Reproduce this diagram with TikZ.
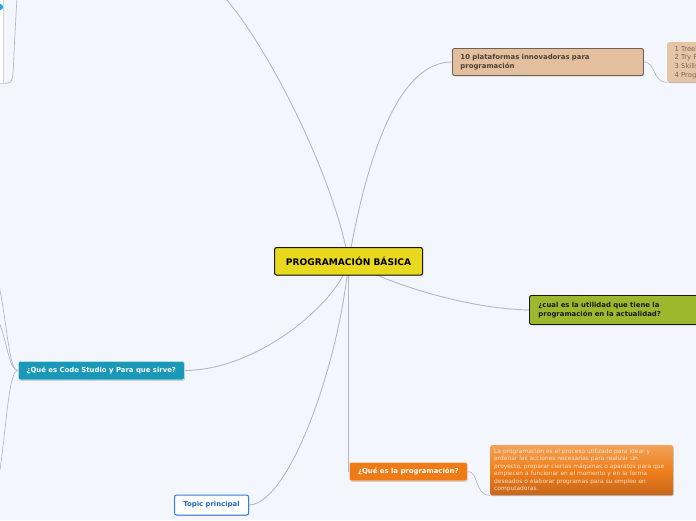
\documentclass[tikz,border=0pt]{standalone}
\usepackage{fontspec}
\setmainfont{DejaVu Sans}
\usetikzlibrary{shadows}
\definecolor{bgc}{HTML}{F3F6FD}
\definecolor{linec}{HTML}{B4B8C3}
\definecolor{cyellow}{HTML}{E8D81E}
\definecolor{ctan}{HTML}{E3BF9E}
\definecolor{ctanb}{HTML}{6E6257}
\definecolor{ctantx}{HTML}{4A3F36}
\definecolor{ctanl}{HTML}{E6C4A6}
\definecolor{ctanltx}{HTML}{7B6654}
\definecolor{cgreen}{HTML}{9EB82E}
\definecolor{cteal}{HTML}{1A98B8}
\definecolor{corange}{HTML}{EF7B16}
\definecolor{cdtop}{HTML}{F2A257}
\definecolor{cdbot}{HTML}{C8661A}
\definecolor{cdtx}{HTML}{F8E2C8}
\definecolor{cblue}{HTML}{2F7FE6}
\definecolor{cbluetx}{HTML}{2066C8}
\definecolor{cdot}{HTML}{1AA3E8}
\pgfdeclarelayer{bglayer}
\pgfdeclarelayer{edges}
\pgfsetlayers{bglayer,edges,main}
\tikzset{
  conn/.style={draw=linec, line width=0.9pt},
  softshadow/.style={drop shadow={shadow xshift=0.5pt, shadow yshift=-0.8pt, opacity=0.25, fill=black}},
  box/.style={rounded corners=2pt, anchor=north west, inner ysep=0pt, softshadow},
  boldtxt/.style={font=\fontsize{6.9}{8.9}\selectfont\bfseries},
}
\begin{document}
\begin{tikzpicture}[x=1pt,y=-1pt]
\useasboundingbox (0,0) rectangle (696,520);
\begin{pgfonlayer}{bglayer}
  \fill[bgc] (0,0) rectangle (696,520);
\end{pgfonlayer}

% central
\node[box, draw=black!90, line width=1.1pt, fill=cyellow, minimum width=148pt, minimum height=27.5pt,
  font=\fontsize{9.1}{11}\selectfont\bfseries] (central) at (274,247) {PROGRAMACIÓN BÁSICA};

% 10 plataformas
\node[box, draw=ctanb, line width=0.9pt, fill=ctan, text=ctantx, boldtxt, align=left,
  inner xsep=8pt, text width=175pt, minimum height=27pt] (plat) at (452,48)
  {10 plataformas innovadoras para\\programación};

% child list (partly off page)
\node[box, fill=ctanl, text=ctanltx, align=left, inner xsep=4pt, minimum height=40pt, minimum width=40pt,
  font=\fontsize{6.8}{8.7}\selectfont] (list) at (667,42)
  {1 Treeh\\2 Try R\\3 Skills\\4 Progr};

% utilidad
\node[box, draw=black!90, line width=0.9pt, fill=cgreen, text=black!90, boldtxt, align=left,
  inner xsep=9pt, text width=170pt, minimum height=29pt] (util) at (529,295)
  {¿cual es la utilidad que tiene la\\programación en la actualidad?};

% code studio
\node[box, draw=white!85!cteal, line width=0.6pt, fill=cteal, text=white, boldtxt,
  minimum width=166pt, minimum height=18.5pt, inner xsep=2pt] (cs) at (18,361)
  {¿Qué es Code Studio y Para que sirve?};

% que es la programacion
\node[box, draw=white!85!corange, line width=0.6pt, fill=corange, text=white, boldtxt,
  minimum width=118pt, minimum height=18.5pt, inner xsep=2pt] (prog) at (349,462)
  {¿Qué es la programación?};

% description
\node[box, top color=cdtop, bottom color=cdbot, middle color=corange!90!cdtop, text=cdtx, align=left,
  inner xsep=4pt, text width=175pt, minimum height=50pt,
  font=\fontsize{5.9}{7.4}\selectfont] (desc) at (490,445)
  {La programación es el proceso utilizado para idear y\\
   ordenar las acciones necesarias para realizar un\\
   proyecto, preparar ciertas máquinas o aparatos para que\\
   empiecen a funcionar en el momento y en la forma\\
   deseados o elaborar programas para su empleo en\\
   computadoras.};

% topic principal
\node[box, draw=cblue, line width=1pt, fill=white, text=cbluetx, boldtxt,
  minimum width=74pt, minimum height=20pt, inner xsep=2pt] (topic) at (174,494.5)
  {Topic principal};

% top-left partial node
\node[anchor=north west, draw=linec!60, line width=0.4pt, fill=white, minimum width=23pt, minimum height=88pt, inner sep=0pt] (tl) at (-20,-5) {};
\node[circle, fill=cdot, minimum size=6pt, inner sep=0pt] (tldot) at (0,7) {};
\coordinate (tltop) at (17,-2);

% off-page ends
\coordinate (topend) at (226,-1);
\coordinate (csa) at (-1,285);
\coordinate (csb) at (-1,322);
\coordinate (csc) at (0,470);

\begin{pgfonlayer}{edges}
  \draw[conn] (topend) .. controls (270,50) and (335,180) .. (central.center);
  \draw[conn] (central.center) .. controls (368,150) and (400,62) .. (plat.west);
  \draw[conn] (central.center) .. controls (390,285) and (470,309) .. (util.west);
  \draw[conn] (central.center) .. controls (340,300) and (260,370) .. (cs.east);
  \draw[conn] (central.center) .. controls (340,360) and (290,504) .. (topic.east);
  \draw[conn] (central.center) -- (central.center |- prog.west) -- (prog.west);
  \draw[conn, line width=0.7pt] (plat.east) .. controls (656,62) and (652,82) .. (list.south west);
  \draw[conn, line width=0.7pt] (prog.east) .. controls (479,471) and (474,495) .. (desc.south west);
  \draw[conn, line width=0.7pt] (cs.west) .. controls (9,370) and (8,330) .. (csa);
  \draw[conn, line width=0.7pt] (cs.west) .. controls (9,370) and (8,345) .. (csb);
  \draw[conn, line width=0.7pt] (cs.west) .. controls (9,370) and (7,420) .. (csc);
  \draw[conn, line width=0.7pt] (tl.south east) -- (8,83) .. controls (12,83) and (13,78) .. (13.5,65)
     .. controls (14.5,40) and (16,15) .. (tltop);
\end{pgfonlayer}
\end{tikzpicture}
\end{document}
